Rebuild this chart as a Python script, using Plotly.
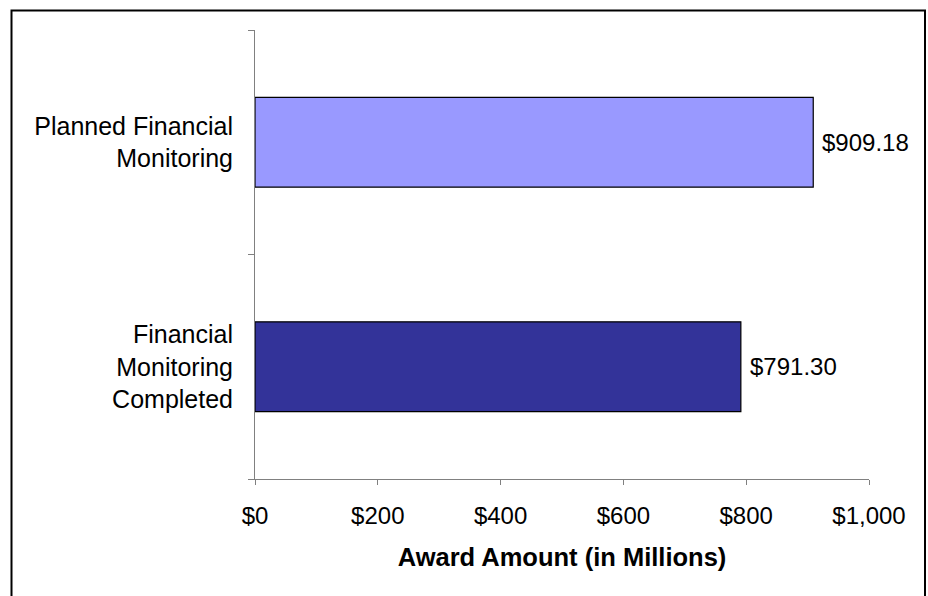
import plotly.graph_objects as go

categories = ["Financial<br>Monitoring<br>Completed", "Planned Financial<br>Monitoring"]
values = [791.30, 909.18]
value_labels = ["$791.30", "$909.18"]
bar_colors = ["#333399", "#9999FF"]
x_ticks = [0, 200, 400, 600, 800, 1000]
x_tick_labels = ["$0", "$200", "$400", "$600", "$800", "$1,000"]
x_title = "Award Amount (in Millions)"

FONT = "Liberation Sans, Arial, sans-serif"

W, H = 928, 596
L, R, T, B = 255, 59, 30, 117
PW, PH = W - L - R, H - T - B

fig = go.Figure(
    go.Bar(
        y=categories,
        x=values,
        orientation="h",
        marker=dict(color=bar_colors, line=dict(color="black", width=1.2)),
        width=0.4,
        cliponaxis=False,
        hoverinfo="x+y",
    )
)

for cat, v, lab in zip(categories, values, value_labels):
    fig.add_annotation(
        x=v, y=cat, xref="x", yref="y",
        text=lab, showarrow=False,
        xanchor="left", yanchor="middle", xshift=7,
        font=dict(family=FONT, size=24, color="black"),
    )

fig.update_layout(
    width=W,
    height=H,
    margin=dict(l=L, r=R, t=T, b=B),
    paper_bgcolor="white",
    plot_bgcolor="white",
    showlegend=False,
    font=dict(family=FONT, color="black"),
    xaxis=dict(
        range=[0, 1000],
        tickvals=x_ticks,
        ticktext=x_tick_labels,
        showgrid=False,
        zeroline=False,
        showline=True,
        linecolor="#808080",
        linewidth=1,
        ticks="outside",
        ticklen=5,
        tickcolor="#808080",
        tickfont=dict(family=FONT, size=24, color="black"),
        ticklabelstandoff=10,
        title=dict(text=f"<b>{x_title}</b>", font=dict(family=FONT, size=25.5, color="black"), standoff=20),
        fixedrange=True,
    ),
    yaxis=dict(
        categoryorder="array",
        categoryarray=categories,
        showgrid=False,
        zeroline=False,
        showline=True,
        linecolor="#808080",
        linewidth=1,
        ticks="outside",
        tickson="boundaries",
        ticklen=6,
        tickcolor="#808080",
        tickfont=dict(family=FONT, size=25, color="black"),
        ticklabelstandoff=16,
        fixedrange=True,
    ),
    shapes=[
        dict(
            type="rect",
            xref="paper",
            yref="paper",
            x0=(11.5 - L) / PW,
            x1=(925 - L) / PW,
            y0=-0.5,
            y1=(H - B - 10.5) / PH,
            line=dict(color="black", width=2),
            fillcolor="rgba(0,0,0,0)",
            layer="below",
        )
    ],
)

fig.write_html(
    "out.html",
    config={"displayModeBar": False},
    default_width=f"{W}px",
    default_height=f"{H}px",
    post_script="document.body.style.margin='0';document.body.style.overflow='hidden';",
)
